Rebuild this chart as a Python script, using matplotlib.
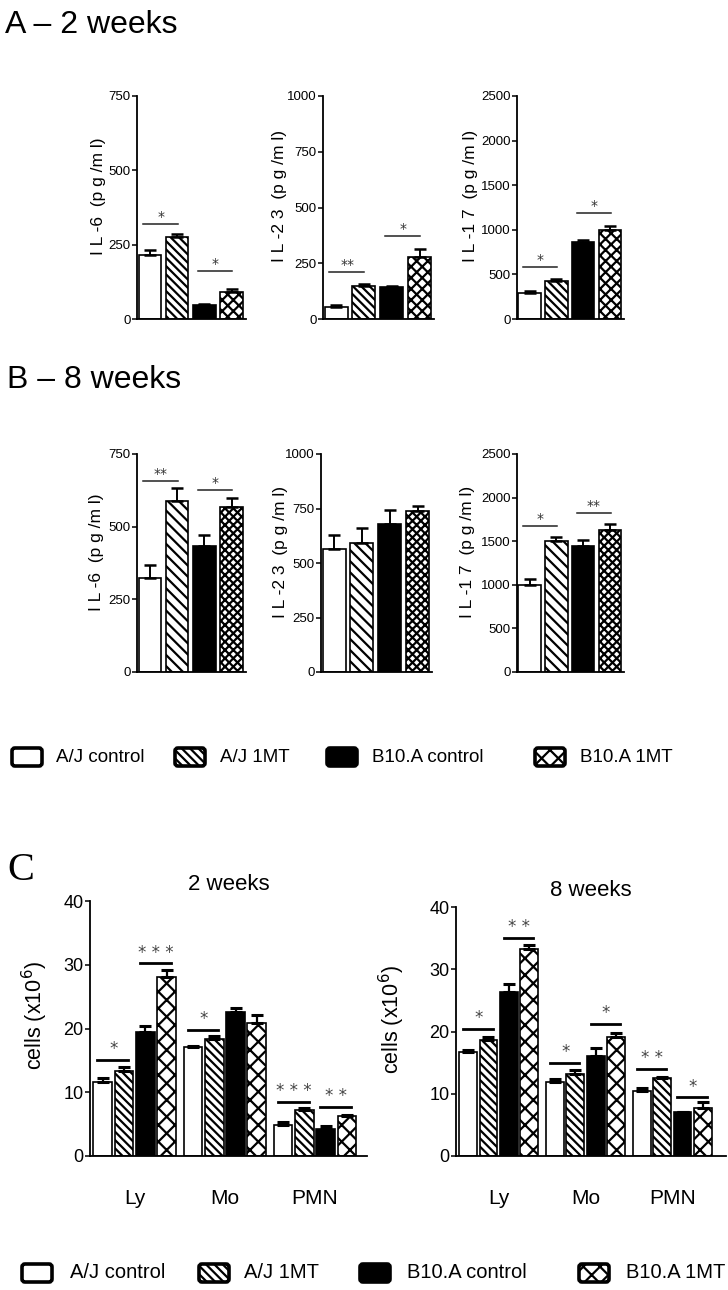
import matplotlib
matplotlib.use("Agg")
import matplotlib.pyplot as plt
from matplotlib.patches import FancyBboxPatch
from matplotlib.transforms import IdentityTransform

# ---- data ----
groups = ["A/J control", "A/J 1MT", "B10.A control", "B10.A 1MT"]

il6_2w = [214, 275, 46, 90]
il6_2w_err = [17, 10, 3, 11]
il23_2w = [55, 147, 142, 277]
il23_2w_err = [6, 10, 4, 37]
il17_2w = [290, 427, 863, 996]
il17_2w_err = [23, 27, 26, 50]

il6_8w = [325, 589, 435, 567]
il6_8w_err = [44, 45, 37, 31]
il23_8w = [565, 592, 680, 740]
il23_8w_err = [65, 69, 65, 20]
il17_8w = [996, 1502, 1445, 1634]
il17_8w_err = [76, 49, 72, 64]

# significance: (bar i, bar j, line height, label)
sig_il6_2w = [(0, 1, 320, "*"), (2, 3, 163, "*")]
sig_il23_2w = [(0, 1, 210, "**"), (2, 3, 374, "*")]
sig_il17_2w = [(0, 1, 584, "*"), (2, 3, 1191, "*")]
sig_il6_8w = [(0, 1, 656, "**"), (2, 3, 626, "*")]
sig_il23_8w = []
sig_il17_8w = [(0, 1, 1672, "*"), (2, 3, 1823, "**")]

il6_ticks = [0, 250, 500, 750]
il23_ticks = [0, 250, 500, 750, 1000]
il17_ticks = [0, 500, 1000, 1500, 2000, 2500]

cell_types = ["Ly", "Mo", "PMN"]
cells_2w = [[11.6, 17.1, 4.9], [13.4, 18.4, 7.2], [19.4, 22.6, 4.2], [28.1, 20.8, 6.2]]
cells_2w_err = [[0.7, 0.2, 0.4], [0.5, 0.4, 0.3], [1.0, 0.6, 0.5], [1.0, 1.3, 0.3]]
cells_8w = [[16.7, 11.9, 10.4], [18.6, 13.1, 12.5], [26.4, 16.1, 7.0], [33.2, 19.1, 7.7]]
cells_8w_err = [[0.3, 0.4, 0.5], [0.5, 0.7, 0.2], [1.3, 1.2, 0.1], [0.7, 0.7, 1.0]]
# (cell type, bar i, bar j, line height, label)
sig_cells_2w = [(0, 0, 1, 15.1, "*"), (0, 2, 3, 30.2, "***"), (1, 0, 1, 19.8, "*"),
                (2, 0, 1, 8.5, "***"), (2, 2, 3, 7.7, "**")]
sig_cells_8w = [(0, 0, 1, 20.4, "*"), (0, 2, 3, 35.0, "**"), (1, 0, 1, 14.9, "*"),
                (1, 2, 3, 21.2, "*"), (2, 0, 1, 14.0, "**"), (2, 2, 3, 9.4, "*")]
cell_ticks = [0, 10, 20, 30, 40]

# ---- style ----
SANS = "Liberation Sans"
SERIF = "Liberation Serif"
plt.rcParams["hatch.linewidth"] = 1.6
plt.rcParams["font.family"] = SANS

W, H = 728, 1290
fig = plt.figure(figsize=(W / 100, H / 100), dpi=100)

facecolors = ["white", "white", "black", "white"]


def add_ax(left, top, right, bottom):
    return fig.add_axes([left / W, 1 - bottom / H, (right - left) / W, (bottom - top) / H])


def style_axis(ax, ticks, tsize):
    for s in ["top", "right"]:
        ax.spines[s].set_visible(False)
    for s in ["left", "bottom"]:
        ax.spines[s].set_linewidth(1.3)
    ax.set_ylim(0, ticks[-1])
    ax.set_yticks(ticks)
    ax.tick_params(axis="y", direction="out", length=3.5, width=1.1, pad=1, labelsize=tsize)


def cyto_panel(ax, vals, errs, sigs, ticks, ylabel, labx, hatches):
    x = list(range(4))
    ax.bar(x, vals, width=0.83, color=facecolors, edgecolor="black", linewidth=1.2,
           hatch=hatches, zorder=2)
    ax.errorbar(x, vals, yerr=[[0] * 4, errs], fmt="none", ecolor="black",
                elinewidth=1.4, capsize=4.5, capthick=1.8, zorder=3)
    style_axis(ax, ticks, 9.5)
    ax.set_xlim(-0.47, 3.52)
    ax.set_xticks([])
    ax.set_ylabel(ylabel, fontsize=12.5)
    ax.yaxis.set_label_coords(labx, 0.55)
    for i, j, y, lab in sigs:
        ax.plot([i - 0.25, j + 0.02], [y, y], color="#222222", lw=1.1, zorder=3)
        ax.text((i + j) / 2 - 0.1, y, lab, ha="center", va="bottom",
                fontsize=10, color="#333333", fontfamily="DejaVu Sans")


hA = ["", "\\\\\\\\", "", "xxx"]
hB = ["", "\\\\\\", "", "xxxx"]
hC = ["", "\\\\\\\\", "", "xx"]

fig.text(5 / W, 1 - 33 / H, "A – 2 weeks", fontsize=23, va="baseline")
axA = [add_ax(137, 96, 246, 319), add_ax(323, 96, 434, 319), add_ax(517, 96, 624, 319)]
cyto_panel(axA[0], il6_2w, il6_2w_err, sig_il6_2w, il6_ticks, "I L -6  (p g /m l)", -0.28, hA)
cyto_panel(axA[1], il23_2w, il23_2w_err, sig_il23_2w, il23_ticks, "I L -2 3  (p g /m l)", -0.32, hA)
cyto_panel(axA[2], il17_2w, il17_2w_err, sig_il17_2w, il17_ticks, "I L -1 7  (p g /m l)", -0.36, hA)

fig.text(7 / W, 1 - 388 / H, "B – 8 weeks", fontsize=23, va="baseline")
axB = [add_ax(137, 454, 246, 672), add_ax(321, 454, 432, 672), add_ax(517, 454, 624, 672)]
cyto_panel(axB[0], il6_8w, il6_8w_err, sig_il6_8w, il6_ticks, "I L -6  (p g /m l)", -0.30, hB)
cyto_panel(axB[1], il23_8w, il23_8w_err, sig_il23_8w, il23_ticks, "I L -2 3  (p g /m l)", -0.30, hB)
cyto_panel(axB[2], il17_8w, il17_8w_err, sig_il17_8w, il17_ticks, "I L -1 7  (p g /m l)", -0.39, hB)


def legend_row(yc, items, size, hatches):
    for k, (x0, xt) in enumerate(items):
        box = FancyBboxPatch((x0, H - yc - 9), 30, 18, boxstyle="round,pad=0,rounding_size=3",
                             facecolor=facecolors[k], edgecolor="black", linewidth=2.6,
                             hatch=hatches[k], transform=IdentityTransform())
        fig.add_artist(box)
        fig.text(xt / W, 1 - yc / H, groups[k], fontsize=size, va="center", ha="left")


legend_row(757, [(12, 56), (175, 220), (327, 372), (535, 580)], 13.5, hC)

# ---- panel C ----
fig.text(7 / W, 1 - 880 / H, "C", fontsize=29, fontfamily=SERIF, va="baseline")


def cells_panel(ax, vals, errs, sigs, title, gap, xmax, labx):
    for k in range(4):
        xs = [g * gap + k for g in range(3)]
        ax.bar(xs, vals[k], width=0.88, color=facecolors[k], edgecolor="black",
               linewidth=1.2, hatch=hC[k], zorder=2)
        ax.errorbar(xs, vals[k], yerr=[[0] * 3, errs[k]], fmt="none", ecolor="black",
                    elinewidth=1.6, capsize=4, capthick=2.2, zorder=3)
    style_axis(ax, cell_ticks, 13)
    ax.set_xlim(-0.6, xmax)
    ax.set_xticks([g * gap + 1.5 for g in range(3)])
    ax.set_xticklabels(cell_types, fontsize=15)
    ax.tick_params(axis="x", length=0, pad=24)
    ax.set_ylabel("cells (x10$^6$)", fontsize=15.5)
    ax.yaxis.set_label_coords(labx, 0.55)
    ax.set_title(title, fontsize=16, pad=8)
    for g, i, j, y, lab in sigs:
        xi, xj = g * gap + i, g * gap + j
        ax.plot([xi - 0.25, xj + 0.2], [y, y], color="black", lw=2.0, zorder=3)
        ax.text((xi + xj) / 2, y + 0.3, " ".join(lab), ha="center", va="bottom",
                fontsize=12, color="#444444", fontfamily="DejaVu Sans")


axC1 = add_ax(90, 901, 367, 1156)
cells_panel(axC1, cells_2w, cells_2w_err, sig_cells_2w, "2 weeks", 4.23, 12.4, -0.145)
axC2 = add_ax(456, 907, 726, 1156)
cells_panel(axC2, cells_8w, cells_8w_err, sig_cells_8w, "8 weeks", 4.28, 12.7, -0.18)

legend_row(1273, [(22, 70), (199, 244), (360, 407), (579, 626)], 14.5, hC)

fig.savefig("out.png", dpi=100)
